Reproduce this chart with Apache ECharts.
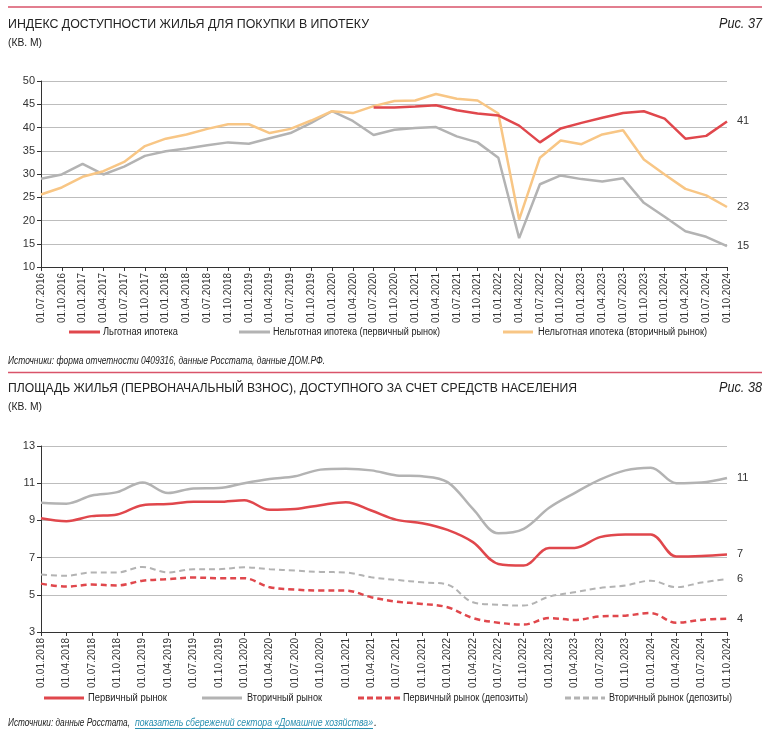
<!DOCTYPE html>
<html><head><meta charset="utf-8">
<script src="https://cdn.jsdelivr.net/npm/echarts@6/dist/echarts.min.js"></script>
<style>html,body{margin:0;padding:0;background:#fff}#c{width:778px;height:743px}</style>
</head><body><div id="c"></div>
<script>
// ---- Chart 1 data ----
const cats1 = ["01.07.2016","01.10.2016","01.01.2017","01.04.2017","01.07.2017","01.10.2017","01.01.2018","01.04.2018","01.07.2018","01.10.2018","01.01.2019","01.04.2019","01.07.2019","01.10.2019","01.01.2020","01.04.2020","01.07.2020","01.10.2020","01.01.2021","01.04.2021","01.07.2021","01.10.2021","01.01.2022","01.04.2022","01.07.2022","01.10.2022","01.01.2023","01.04.2023","01.07.2023","01.10.2023","01.01.2024","01.04.2024","01.07.2024","01.10.2024"];
const lgot = [null,null,null,null,null,null,null,null,null,null,null,null,null,null,null,null,44.3,44.3,44.5,44.8,43.7,43.0,42.6,40.4,36.8,39.8,41.0,42.1,43.1,43.5,41.9,37.6,38.2,41.3];
const nelgPerv = [29.0,29.9,32.2,29.9,31.6,33.9,34.9,35.5,36.2,36.8,36.5,37.7,38.8,41.0,43.5,41.4,38.4,39.5,39.9,40.1,38.1,36.8,33.5,16.2,27.8,29.7,28.9,28.4,29.1,23.8,20.8,17.7,16.5,14.5];
const nelgVtor = [25.6,27.1,29.4,30.6,32.6,36.0,37.6,38.5,39.7,40.7,40.7,38.8,39.7,41.5,43.5,43.1,44.6,45.7,45.8,47.2,46.2,45.8,43.0,20.2,33.5,37.2,36.4,38.5,39.4,33.1,29.9,26.8,25.4,22.9];
const names1 = ['Льготная ипотека','Нельготная ипотека (первичный рынок)','Нельготная ипотека (вторичный рынок)'];
// ---- Chart 2 data ----
const cats2 = ["01.01.2018","01.04.2018","01.07.2018","01.10.2018","01.01.2019","01.04.2019","01.07.2019","01.10.2019","01.01.2020","01.04.2020","01.07.2020","01.10.2020","01.01.2021","01.04.2021","01.07.2021","01.10.2021","01.01.2022","01.04.2022","01.07.2022","01.10.2022","01.01.2023","01.04.2023","01.07.2023","01.10.2023","01.01.2024","01.04.2024","01.07.2024","01.10.2024"];
const perv = [9.12,8.96,9.23,9.32,9.82,9.88,10.0,10.0,10.09,9.57,9.61,9.82,9.98,9.53,9.03,8.85,8.49,7.83,6.66,6.57,7.52,7.52,8.1,8.24,8.24,7.06,7.09,7.17];
const vtor = [9.95,9.9,10.34,10.52,11.04,10.47,10.72,10.74,11.0,11.22,11.37,11.73,11.78,11.69,11.42,11.37,11.06,9.62,8.31,8.55,9.68,10.47,11.19,11.69,11.83,11.0,11.04,11.28];
const pervDep = [5.6,5.44,5.55,5.5,5.76,5.84,5.93,5.89,5.89,5.41,5.28,5.23,5.23,4.87,4.63,4.51,4.33,3.75,3.5,3.4,3.75,3.65,3.84,3.88,4.02,3.5,3.65,3.72];
const vtorDep = [6.09,6.02,6.2,6.2,6.5,6.2,6.38,6.38,6.48,6.38,6.3,6.23,6.2,5.94,5.8,5.67,5.55,4.6,4.47,4.42,4.9,5.14,5.37,5.5,5.76,5.41,5.66,5.85];
const names2 = ['Первичный рынок','Вторичный рынок','Первичный рынок (депозиты)','Вторичный рынок (депозиты)'];

const FAM = '"Liberation Sans","DejaVu Sans",sans-serif';
const RED = '#E0474C', GRAY = '#B3B3B3', ORANGE = '#F8C685', INK = '#222';

const mctx = document.createElement('canvas').getContext('2d');
function fit(x, y, text, size, w, o){
  o = o || {};
  const font = (o.italic ? 'italic ' : '') + size + 'px ' + FAM;
  mctx.font = font;
  const m = mctx.measureText(text).width;
  return {type:'text', x:x, y:y, scaleX: w / m, z:10,
    style:{text:text, font:font, fill:o.fill||INK, align:o.align||'left', verticalAlign:'middle'}};
}
function legLine(x1, x2, y, color, dash){
  return {type:'line', shape:{x1:x1, y1:y, x2:x2, y2:y}, z:10,
    style:{stroke:color, lineWidth:3, lineDash:dash||null}};
}

const chart = echarts.init(document.getElementById('c'), null, {renderer:'canvas'});

function xAxis(gi, cats){
  return {type:'category', gridIndex:gi, data:cats, boundaryGap:false,
    axisLine:{show:true, lineStyle:{color:'#333', width:1}},
    axisTick:{show:true, alignWithLabel:true, length:4, lineStyle:{color:'#333'}},
    axisLabel:{rotate:90, interval:0, fontSize:10, color:'#333', fontFamily:FAM, margin:6},
    splitLine:{show:false}};
}
function yAxis(gi, min, max, itv){
  return {type:'value', gridIndex:gi, min:min, max:max, interval:itv,
    axisLine:{show:true, lineStyle:{color:'#333', width:1}},
    axisTick:{show:true, length:4, lineStyle:{color:'#333'}},
    axisLabel:{fontSize:11, color:'#333', fontFamily:FAM, margin:6},
    splitLine:{show:true, lineStyle:{color:'#BDBDBD', width:1}}};
}
function line(name, data, color, xi, opts){
  return Object.assign({name:name, type:'line', xAxisIndex:xi, yAxisIndex:xi, data:data,
    showSymbol:false, symbol:'none', lineStyle:{color:color, width:2.5}, itemStyle:{color:color},
    endLabel:{show:true, formatter:(p)=>String(Math.round(p.value)), fontSize:11, color:'#333', distance:10, fontFamily:FAM},
    emphasis:{disabled:true}, connectNulls:false, z:2}, opts||{});
}

const option = {
  animation:false,
  grid:[
    {left:41, right:51, top:81, height:186, containLabel:false},
    {left:41, right:51, top:446, height:186, containLabel:false}
  ],
  xAxis:[xAxis(0,cats1), xAxis(1,cats2)],
  yAxis:[yAxis(0,10,50,5), yAxis(1,3,13,2)],
  series:[
    line(names1[0], lgot, RED, 0, {z:4}),
    line(names1[1], nelgPerv, GRAY, 0, {z:2}),
    line(names1[2], nelgVtor, ORANGE, 0, {z:3}),
    line(names2[0], perv, RED, 1, {smooth:0.35, z:4}),
    line(names2[1], vtor, GRAY, 1, {smooth:0.35, z:3}),
    line(names2[2], pervDep, RED, 1, {smooth:0.35, lineStyle:{color:RED, width:2.5, type:[6,4]}, z:2}),
    line(names2[3], vtorDep, GRAY, 1, {smooth:0.35, lineStyle:{color:GRAY, width:2, type:[6,4]}, z:1})
  ],
  graphic:[
    {type:'line', shape:{x1:8, y1:7, x2:762, y2:7}, style:{stroke:'#D9536A', lineWidth:1.5}},
    fit(8, 24.5, 'ИНДЕКС ДОСТУПНОСТИ ЖИЛЬЯ ДЛЯ ПОКУПКИ В ИПОТЕКУ', 13.5, 361),
    fit(8, 43.5, '(КВ. М)', 10, 34),
    fit(762, 24.5, 'Рис. 37', 14, 43, {italic:true, align:'right'}),
    legLine(69, 100, 332, RED), fit(103, 332, names1[0], 10, 75),
    legLine(239, 270, 332, GRAY), fit(273, 332, names1[1], 10, 167),
    legLine(503, 533, 332, ORANGE), fit(538, 332, names1[2], 10, 169),
    fit(8, 361.5, 'Источники: форма отчетности 0409316, данные Росстата, данные ДОМ.РФ.', 10, 317, {italic:true}),
    {type:'line', shape:{x1:8, y1:372.5, x2:762, y2:372.5}, style:{stroke:'#D9536A', lineWidth:1.5}},
    fit(8, 388.5, 'ПЛОЩАДЬ ЖИЛЬЯ (ПЕРВОНАЧАЛЬНЫЙ ВЗНОС), ДОСТУПНОГО ЗА СЧЕТ СРЕДСТВ НАСЕЛЕНИЯ', 13.5, 569),
    fit(8, 407.5, '(КВ. М)', 10, 34),
    fit(762, 388.5, 'Рис. 38', 14, 43, {italic:true, align:'right'}),
    legLine(44, 84, 698, RED), fit(88, 698, names2[0], 10, 79),
    legLine(202, 242, 698, GRAY), fit(247, 698, names2[1], 10, 75),
    legLine(358, 400, 698, RED, [6,3]), fit(403, 698, names2[2], 10, 125),
    legLine(565, 605, 698, GRAY, [6,3]), fit(609, 698, names2[3], 10, 123),
    fit(8, 723, 'Источники: данные Росстата,', 10, 122, {italic:true}),
    fit(135, 723, 'показатель сбережений сектора «Домашние хозяйства»', 10, 238, {italic:true, fill:'#2A8FB0'}),
    {type:'line', shape:{x1:135, y1:728.5, x2:373, y2:728.5}, style:{stroke:'#2A8FB0', lineWidth:1}},
    fit(374, 723, '.', 10, 3, {italic:true})
  ]
};
chart.setOption(option);
</script></body></html>
